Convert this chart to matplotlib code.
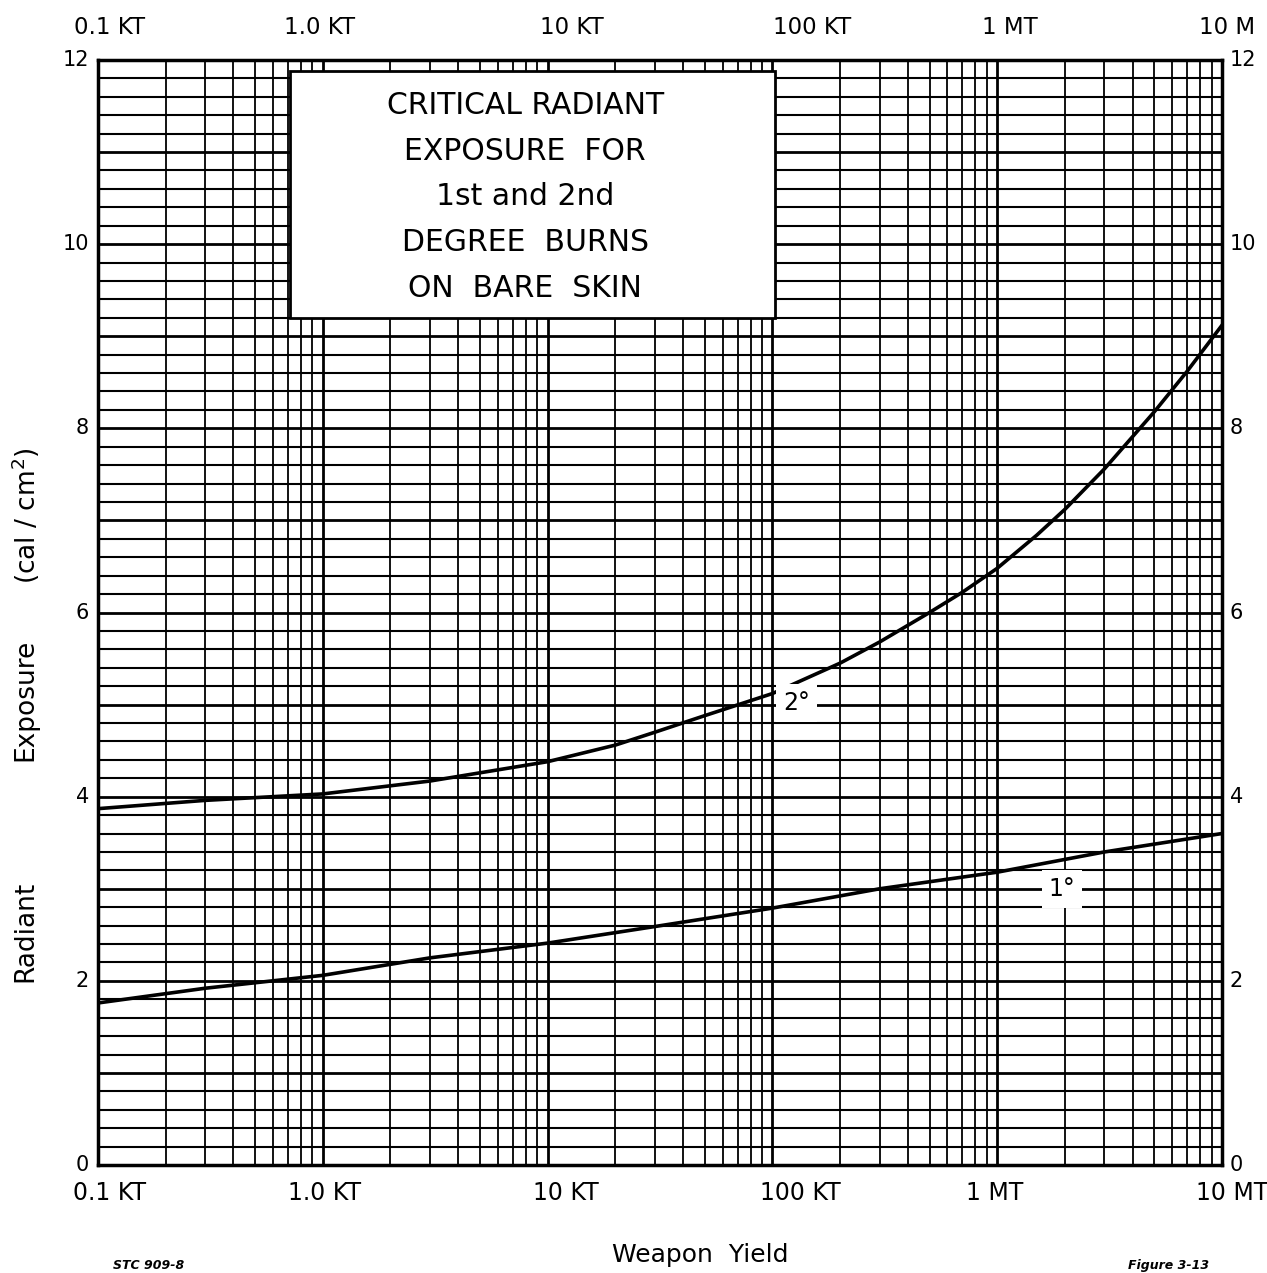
import numpy as np
import matplotlib
matplotlib.use("Agg")
import matplotlib.pyplot as plt
from matplotlib.patches import Rectangle
from matplotlib.transforms import offset_copy

# weapon yield in KT
yield_2nd = [0.1, 0.3, 1, 3, 10, 20, 30, 50, 100, 200, 300, 500, 700,
             1000, 1500, 2000, 3000, 5000, 7000, 10000]
exp_2nd = [3.87, 3.96, 4.03, 4.17, 4.38, 4.56, 4.70, 4.88, 5.12, 5.45, 5.68,
           6.00, 6.22, 6.48, 6.84, 7.12, 7.56, 8.18, 8.62, 9.12]

yield_1st = [0.1, 0.3, 1, 3, 10, 30, 100, 300, 1000, 3000, 10000]
exp_1st = [1.76, 1.92, 2.06, 2.25, 2.41, 2.59, 2.79, 3.00, 3.18, 3.40, 3.60]

decades = [0.1, 1, 10, 100, 1000, 10000]
bottom_labels = ["0.1 KT", "1.0 KT", "10 KT", "100 KT", "1 MT", "10 MT"]
top_labels = ["0.1 KT", "1.0 KT", "10 KT", "100 KT", "1 MT", "10 M"]
y_labels = [0, 2, 4, 6, 8, 10, 12]

title_lines = ["CRITICAL RADIANT", "EXPOSURE  FOR", "1st and 2nd",
               "DEGREE  BURNS", "ON  BARE  SKIN"]

# label nudges in pixels (hand lettered labels are not centred on the ticks)
top_dx = [12, -3, 24, 40, 13, 5]
bottom_dx = [12, 2, 18, 28, -3, 10]

fig = plt.figure(figsize=(12.67, 12.73), dpi=100)
ax = fig.add_axes([0.0773, 0.0848, 0.8872, 0.8681])
ax.set_xscale("log")
ax.set_xlim(0.1, 10000)
ax.set_ylim(0, 12)

# graph paper grid
for d in decades[:-1]:
    for m in range(1, 10):
        ax.axvline(d * m, color="black", lw=2.0 if m == 1 else 1.3, zorder=1)
for k in range(61):
    ax.axhline(k * 0.2, color="black", lw=2.0 if k % 5 == 0 else 1.5, zorder=1)

for s in ax.spines.values():
    s.set_linewidth(2.5)
ax.set_xticks([])
ax.set_yticks([])
ax.minorticks_off()
ax.tick_params(which="both", length=0)
ax.xaxis.set_minor_formatter(plt.NullFormatter())

# title box
ax.add_patch(Rectangle((0.714, 9.2), 102.6 - 0.714, 11.88 - 9.2,
                       facecolor="white", edgecolor="black", lw=2.0, zorder=2))
for i, line in enumerate(title_lines):
    ax.text(0.38, 0.959 - i * 0.0415, line, transform=ax.transAxes,
            ha="center", va="center", fontsize=21.5, zorder=3)

# curves
ax.plot(yield_2nd, exp_2nd, color="black", lw=2.6, zorder=4)
ax.plot(yield_1st, exp_1st, color="black", lw=2.6, zorder=4)
ax.text(128, 5.02, "2°", ha="center", va="center", fontsize=17, zorder=5,
        bbox=dict(facecolor="white", edgecolor="none", pad=5))
ax.text(1942, 3.0, "1°", ha="center", va="center", fontsize=17, zorder=5,
        bbox=dict(facecolor="white", edgecolor="none", pad=5))

# axis labels
xtr = ax.get_xaxis_transform()
for d, lb, dx in zip(decades, bottom_labels, bottom_dx):
    ax.text(d, -0.025, lb, transform=offset_copy(xtr, fig=fig, x=dx, y=0, units="dots"),
            ha="center", va="center", fontsize=17, clip_on=False)
for d, lb, dx in zip(decades, top_labels, top_dx):
    ax.text(d, 1.029, lb, transform=offset_copy(xtr, fig=fig, x=dx, y=0, units="dots"),
            ha="center", va="center", fontsize=16.5, clip_on=False)
ytr = ax.get_yaxis_transform()
for v in y_labels:
    ax.text(-0.008, v, str(v), transform=ytr, ha="right", va="center",
            fontsize=15, clip_on=False)
    ax.text(1.007, v, str(v), transform=ytr, ha="left", va="center",
            fontsize=15, clip_on=False)

fig.text(0.02, 0.268, "Radiant", rotation=90, ha="center", va="center", fontsize=19)
fig.text(0.02, 0.450, "Exposure", rotation=90, ha="center", va="center", fontsize=19)
fig.text(0.02, 0.595, "(cal / cm$^2$)", rotation=90, ha="center", va="center",
         fontsize=19)
fig.text(0.553, 0.014, "Weapon  Yield", ha="center", va="center", fontsize=18)
fig.text(0.117, 0.006, "STC 909-8", ha="center", va="center", fontsize=9,
         style="italic", weight="bold")
fig.text(0.922, 0.006, "Figure 3-13", ha="center", va="center", fontsize=9,
         style="italic", weight="bold")

fig.savefig("out.png", dpi=100, facecolor="white")
